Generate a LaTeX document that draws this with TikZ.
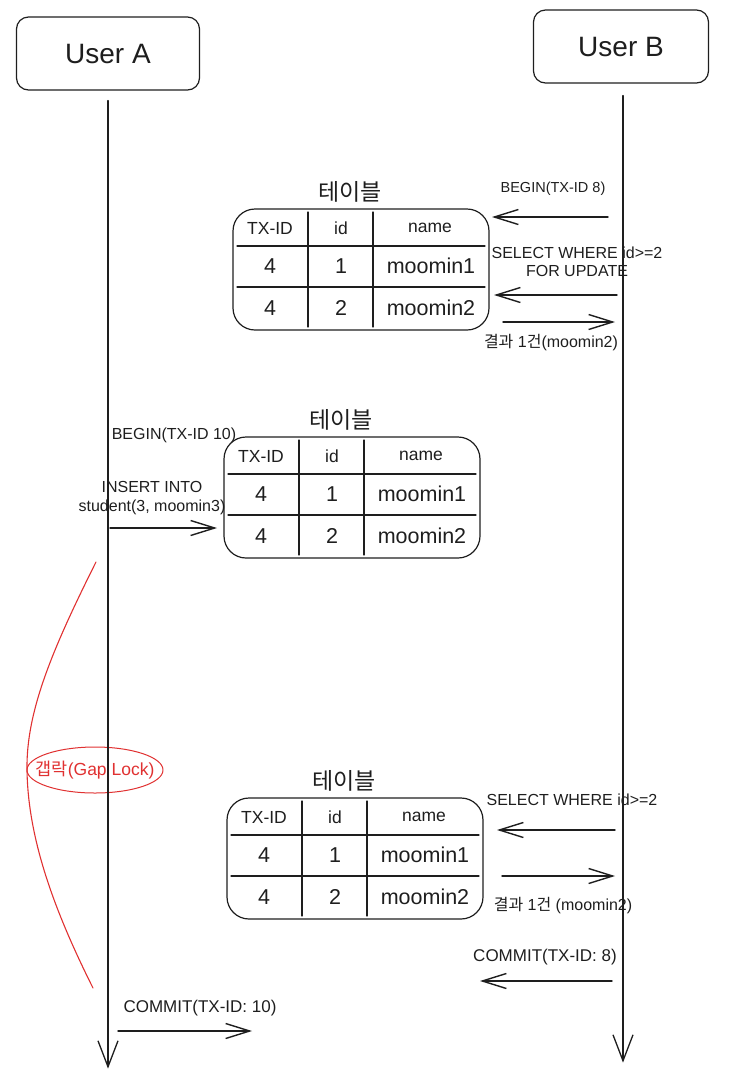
\documentclass[tikz,border=0pt]{standalone}
\usepackage{fontspec}
\setmainfont{Liberation Sans}
\newfontfamily\kr{Noto Sans CJK KR}
\usetikzlibrary{arrows.meta,shapes.geometric}
\definecolor{ink}{HTML}{1E1E1E}
\definecolor{gapred}{HTML}{E03131}
\def\fsz#1#2{\fontsize{#1}{#2}\selectfont}
\def\dbtable#1#2{%
  \begin{scope}[shift={#2}]
    \node[tbox] (#1) at (128,60.5) {};
    \node[ttitle] (#1-title) at (117,-17) {테이블};
    \draw[tline] (4,37) -- (252,37);
    \draw[tline] (4,78) -- (252,78);
    \draw[tline] (75,3) -- (75,118);
    \draw[tline] (140,3) -- (140,118);
    \node[thead] (#1-h1) at (37,19) {TX-ID};
    \node[thead] (#1-h2) at (108,19) {id};
    \node[thead] (#1-h3) at (197,19) {name};
    \foreach \r/\y in {1/57,2/99} {
      \node[tcell] (#1-r\r a) at (37,\y) {4};
      \node[tcell] (#1-r\r b) at (108,\y) {\r};
      \node[tcell] (#1-r\r c) at (198,\y) {moomin\r};
    }
  \end{scope}}

\begin{document}
\begin{tikzpicture}[x=1pt,y=-1pt,line cap=round,line join=round,
    ink/.style={draw=ink,text=ink},
    userbox/.style={ink,line width=1.2pt,rounded corners=12pt,minimum height=73pt,font=\fsz{28}{32}},
    life/.style={draw=ink,line width=1.3pt,-{Straight Barb[length=26pt,width=20pt]}},
    msg/.style={draw=ink,line width=1.4pt,-{Straight Barb[length=24pt,width=15pt]}},
    lbl/.style={text=ink,align=center,inner sep=0pt,font=\fsz{16}{17.5}},
    tbox/.style={ink,line width=1.2pt,rounded corners=22pt,minimum width=256pt,minimum height=121pt},
    tline/.style={draw=ink,line width=1.1pt},
    ttitle/.style={text=ink,font=\kr\fsz{23}{27}},
    thead/.style={text=ink,font=\fsz{17.5}{20}},
    tcell/.style={text=ink,font=\fsz{21.5}{25}},
    gapnode/.style={ellipse,draw=gapred,text=gapred,line width=1pt,minimum width=136pt,minimum height=46pt,inner xsep=-11.5pt,inner ysep=0pt,font=\fsz{17.5}{20}},
    gapline/.style={draw=gapred,line width=1.1pt}]
  \useasboundingbox (0,0) rectangle (730,1088);

  % users and lifelines
  \node[userbox,minimum width=183pt] (userA) at (108,53.5) {User A};
  \node[userbox,minimum width=175pt] (userB) at (621,46.5) {User B};

  % gap lock
  \draw[gapline] (96,562) .. controls (52,650) and (26,712) .. (27,770)
                          .. controls (28,840) and (55,912) .. (93,988);
  \node[gapnode] (gap) at (95,770) {{\kr 갭락}(Gap Lock)};

  \draw[life] ([yshift=-10pt]userA.south) -- ++(0,968);
  \draw[life] ([xshift=2pt,yshift=-12pt]userB.south) -- ++(0,967);

  % tables
  \dbtable{tabA}{(233,209)}
  \dbtable{tabB}{(224,437)}
  \dbtable{tabC}{(227,798)}

  % messages
  \foreach \a/\xa/\xb/\y in {b1/608/492/217, b2/617/494/295, b3/503/615/322,
      a1/110/217/528, b4/615/497/830, b5/502/615/876, b6/612/480/981, a2/118/252/1031} {
    \coordinate (\a-s) at (\xa,\y);
    \coordinate (\a-e) at (\xb,\y);
    \draw[msg] (\a-s) -- (\a-e);
  }

  \node[lbl,font=\fsz{14.5}{17}] (beginB) at (553,189) {BEGIN(TX-ID 8)};
  \node[lbl] (selB) at (577,262) {SELECT WHERE id>=2\\FOR UPDATE};
  \node[lbl] (resB) at (551,343) {{\kr 결과} 1{\kr 건}(moomin2)};
  \node[lbl] (beginA) at (174,435) {BEGIN(TX-ID 10)};
  \node[lbl,font=\fsz{16}{19}] (insA) at (152,498) {INSERT INTO\\student(3, moomin3)};
  \node[lbl] (selC) at (572,800) {SELECT WHERE id>=2};
  \node[lbl] (resC) at (563,906) {{\kr 결과} 1{\kr 건} (moomin2)};
  \node[lbl,font=\fsz{17}{20}] (commitB) at (545,957) {COMMIT(TX-ID: 8)};
  \node[lbl,font=\fsz{17}{20}] (commitA) at (200,1008) {COMMIT(TX-ID: 10)};
\end{tikzpicture}
\end{document}
